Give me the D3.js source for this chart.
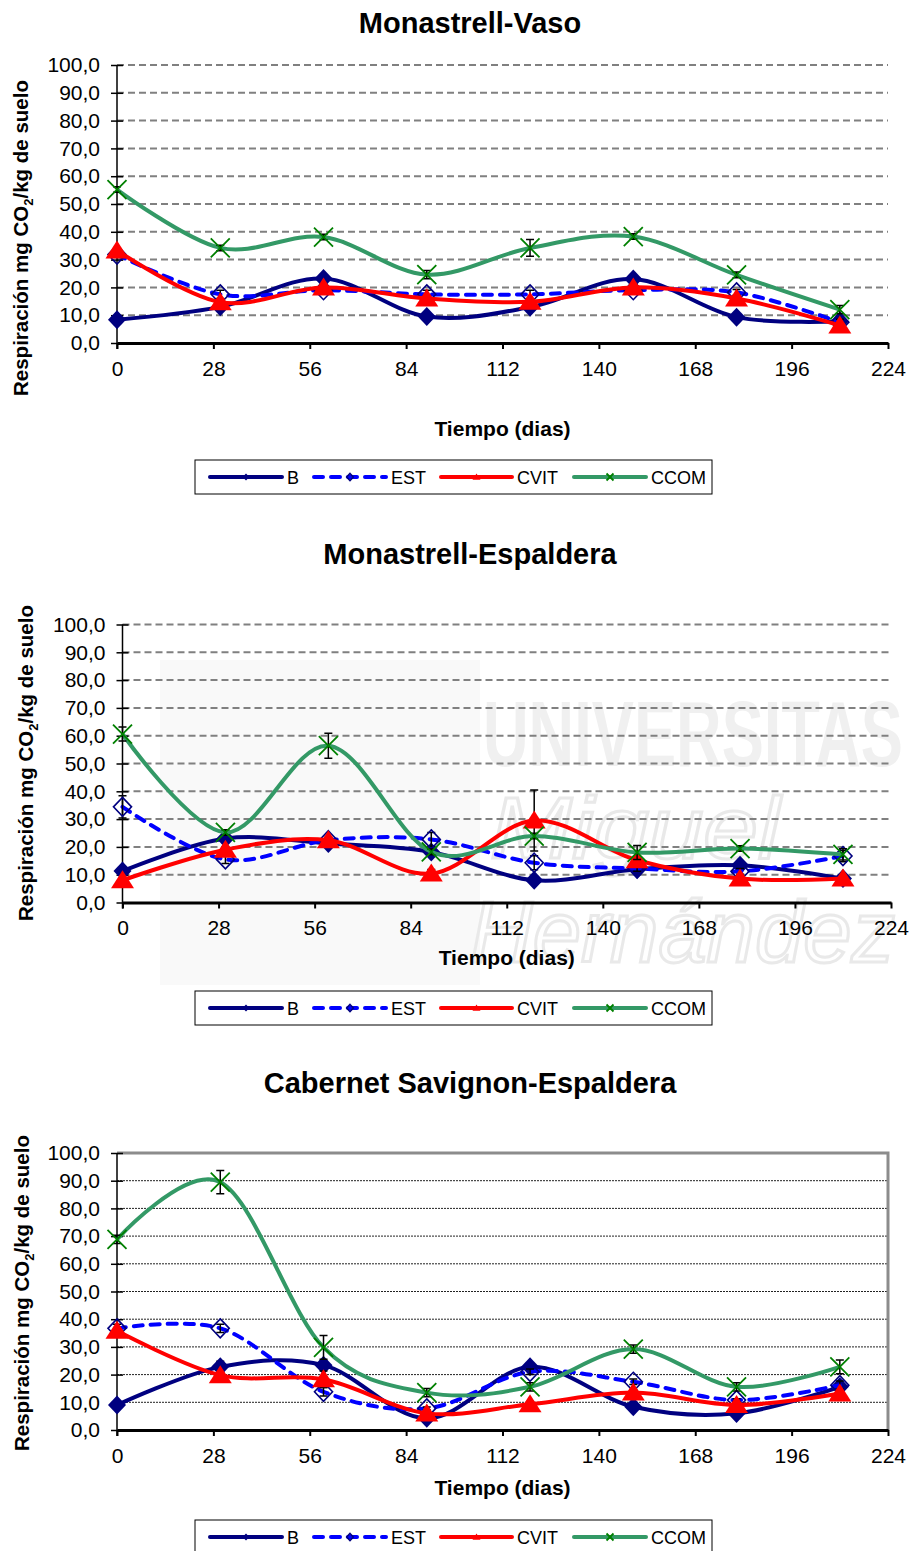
<!DOCTYPE html>
<html>
<head>
<meta charset="utf-8">
<script src="https://cdn.jsdelivr.net/npm/d3@7"></script>
<style>
  html, body { margin: 0; padding: 0; background: #fff; }
  svg { display: block; font-family: "Liberation Sans", Arial, Helvetica, sans-serif; }
</style>
</head>
<body>
<script>
// Sampling days and axis ticks
const days = [0, 30, 60, 90, 120, 150, 180, 210];
const xTicks = [0, 28, 56, 84, 112, 140, 168, 196, 224];
const yTicks = [0, 10, 20, 30, 40, 50, 60, 70, 80, 90, 100];
const seriesNames = ["B", "EST", "CVIT", "CCOM"];

// Monastrell-Vaso
const vasoB    = [8.4, 13.0, 23.2, 9.5, 12.9, 23.0, 9.3, 7.8];
const vasoEST  = [31.8, 17.5, 19.0, 17.5, 17.5, 19.0, 18.2, 7.5];
const vasoCVIT = [33.3, 14.7, 20.0, 16.0, 14.8, 20.0, 16.0, 6.3];
const vasoCCOM = [55.2, 34.2, 38.1, 24.6, 34.2, 38.3, 24.5, 12.0];
const vasoErrB    = [0.5, 1, 1, 0.5, 1, 1, 0.5, 0.5];
const vasoErrEST  = [1, 1.5, 1, 1.5, 1.5, 1, 1, 1];
const vasoErrCVIT = [1, 1, 1, 1, 1, 1, 1, 1];
const vasoErrCCOM = [1, 1, 1, 1.5, 3, 1, 1, 1.5];

// Monastrell-Espaldera
const espB    = [11.3, 23.0, 21.2, 18.2, 8.0, 12.0, 13.4, 8.6];
const espEST  = [34.4, 15.5, 22.4, 22.7, 14.3, 12.2, 11.2, 16.7];
const espCVIT = [8.0, 19.0, 22.4, 10.4, 29.5, 15.2, 8.6, 8.6];
const espCCOM = [60.6, 25.2, 56.4, 18.2, 23.9, 18.0, 19.4, 17.3];
const espErrB    = [1, 1.5, 1, 1, 1, 1, 1, 1];
const espErrEST  = [4, 1.5, 1, 2.5, 2.5, 1, 1, 2];
const espErrCVIT = [0.5, 1, 1, 1.5, 11, 1, 1, 1];
const espErrCCOM = [2.5, 1, 4.5, 1, 1, 2.5, 1, 2];

// Cabernet Savignon-Espaldera
const cabB    = [9.0, 22.8, 23.4, 4.2, 22.8, 8.4, 6.0, 15.6];
const cabEST  = [36.7, 36.7, 13.8, 7.8, 21.0, 17.4, 10.8, 16.2];
const cabCVIT = [35.8, 19.8, 18.3, 6.0, 9.3, 13.5, 9.0, 13.2];
const cabCCOM = [68.8, 89.5, 29.8, 13.5, 15.6, 29.2, 15.6, 22.8];
const cabErrB    = [0.5, 2, 1.5, 0.5, 1, 0.5, 0.5, 1];
const cabErrEST  = [1.5, 1.5, 1.5, 0.5, 1, 1, 0.5, 1.5];
const cabErrCVIT = [1, 1, 3, 0.5, 1, 1, 1, 1];
const cabErrCCOM = [1.5, 4.2, 4.3, 1.5, 1.5, 1.5, 1.5, 2.5];

const chartTitles = ["Monastrell-Vaso", "Monastrell-Espaldera", "Cabernet Savignon-Espaldera"];

// Series styling
const styles = {
  B:    { color: "#000080", dash: null,  marker: "diamondFilled" },
  EST:  { color: "#0000ff", dash: "9,8", marker: "diamondOpen" },
  CVIT: { color: "#ff0000", dash: null,  marker: "triangle" },
  CCOM: { color: "#339966", dash: null,  marker: "cross" }
};

const FONT = '"Liberation Sans", Arial, Helvetica, sans-serif';
const fmt = d => d.toFixed(1).replace(".", ",");

const svg = d3.select("body").append("svg")
  .attr("width", 910).attr("height", 1551);

function markerPath(kind, r) {
  if (kind === "diamondFilled" || kind === "diamondOpen") {
    return `M0,${-r}L${r * 0.95},0L0,${r}L${-r * 0.95},0Z`;
  }
  if (kind === "triangle") {
    const w = r * 1.15;
    return `M0,${-r}L${w},${r * 0.8}L${-w},${r * 0.8}Z`;
  }
  return `M${-r},${-r}L${r},${r}M${-r},${r}L${r},${-r}`;
}

function drawMarker(g, kind, color, cx, cy, r) {
  const p = g.append("path")
    .attr("transform", `translate(${cx},${cy})`)
    .attr("d", markerPath(kind, r));
  if (kind === "diamondFilled") p.attr("fill", "#000080");
  else if (kind === "diamondOpen") p.attr("fill", "none").attr("stroke", "#000080").attr("stroke-width", 1.6);
  else if (kind === "triangle") p.attr("fill", "#ff0000");
  else p.attr("fill", "none").attr("stroke", "#008000").attr("stroke-width", 1.8);
}

function drawChart(cfg, data) {
  const g = svg.append("g");
  const x = d3.scaleLinear().domain([0, 224]).range([cfg.left, cfg.right]);
  const y = d3.scaleLinear().domain([0, 100]).range([cfg.bottom, cfg.top]);

  if (cfg.watermark) cfg.watermark(g);

  // Title
  g.append("text")
    .attr("x", 470).attr("y", cfg.titleY)
    .attr("text-anchor", "middle")
    .attr("font-size", 29).attr("font-weight", "bold")
    .text(cfg.title);

  // Horizontal gridlines
  g.append("g").selectAll("line")
    .data(yTicks.filter(t => t > 0 && !(cfg.framed && t === 100)))
    .join("line")
    .attr("x1", cfg.left).attr("x2", cfg.right)
    .attr("y1", d => y(d)).attr("y2", d => y(d))
    .attr("stroke", cfg.framed ? "#222" : "#808080")
    .attr("stroke-width", cfg.framed ? 1 : 2)
    .attr("stroke-dasharray", cfg.framed ? "2,1" : "7,4");

  if (cfg.framed) {
    g.append("path")
      .attr("d", `M${cfg.left},${y(100)}H${cfg.right}V${cfg.bottom}`)
      .attr("fill", "none").attr("stroke", "#8c8c8c").attr("stroke-width", 3);
  }

  // Y axis
  const yAxis = g.append("g")
    .attr("transform", `translate(${cfg.left},0)`)
    .call(d3.axisLeft(y).tickValues(yTicks).tickFormat(fmt).tickSize(6).tickPadding(11).tickSizeOuter(0));
  yAxis.select(".domain").remove();
  yAxis.selectAll(".tick line").attr("x1", 6).attr("stroke", "#000").attr("stroke-width", 1.5);
  yAxis.selectAll(".tick text").attr("font-size", 21).attr("font-family", FONT).attr("fill", "#000");
  g.append("line")
    .attr("x1", cfg.left).attr("x2", cfg.left)
    .attr("y1", y(100)).attr("y2", cfg.bottom + 6)
    .attr("stroke", "#000").attr("stroke-width", 1.5);

  // X axis
  const xAxis = g.append("g")
    .attr("transform", `translate(0,${cfg.bottom})`)
    .call(d3.axisBottom(x).tickValues(xTicks).tickSize(6).tickPadding(12).tickSizeOuter(0));
  xAxis.select(".domain").attr("stroke", "#000").attr("stroke-width", 3);
  xAxis.selectAll(".tick line").attr("stroke", "#000").attr("stroke-width", 2);
  xAxis.selectAll(".tick text").attr("font-size", 21).attr("font-family", FONT).attr("fill", "#000");

  // Axis titles
  g.append("text")
    .attr("x", (cfg.left + cfg.right) / 2).attr("y", cfg.xTitleY)
    .attr("text-anchor", "middle")
    .attr("font-size", 21).attr("font-weight", "bold")
    .text("Tiempo (dias)");

  const yt = g.append("text")
    .attr("transform", `translate(${cfg.yTitleX},${cfg.yTitleY}) rotate(-90)`)
    .attr("text-anchor", "middle")
    .attr("font-size", 20.5).attr("font-weight", "bold");
  yt.append("tspan").text("Respiración mg CO");
  yt.append("tspan").attr("font-size", 13).attr("dy", 5).text("2");
  yt.append("tspan").attr("dy", -5).text("/kg de suelo");

  // Series: smoothed line, error bars, markers
  const line = d3.line()
    .x(d => x(d.day)).y(d => y(d.v))
    .curve(d3.curveCatmullRom.alpha(0));

  data.forEach(s => {
    const st = styles[s.name];
    const pts = days.map((d, i) => ({ day: d, v: s.values[i], e: s.errors[i] }));
    const sg = g.append("g");
    sg.append("path")
      .datum(pts)
      .attr("d", line)
      .attr("fill", "none")
      .attr("stroke", st.color)
      .attr("stroke-width", 4)
      .attr("stroke-linecap", st.dash ? "round" : "butt")
      .attr("stroke-linejoin", "round")
      .attr("stroke-dasharray", st.dash);

    const eb = sg.append("g").attr("stroke", "#000").attr("stroke-width", 1.5).attr("fill", "none");
    pts.forEach(p => {
      const cx = x(p.day), y1 = y(p.v + p.e), y2 = y(p.v - p.e);
      eb.append("path").attr("d", `M${cx},${y1}V${y2}M${cx - 4},${y1}H${cx + 4}M${cx - 4},${y2}H${cx + 4}`);
    });

    pts.forEach(p => drawMarker(sg, st.marker, st.color, x(p.day), y(p.v), st.marker === "triangle" ? 10 : 9.5));
  });

  // Legend
  const lg = g.append("g").attr("transform", `translate(195,${cfg.legendY})`);
  lg.append("rect").attr("width", 517).attr("height", 34)
    .attr("fill", "#fff").attr("stroke", "#000").attr("stroke-width", 1);
  const items = [
    { name: "B", x0: 15, x1: 87, tx: 92 },
    { name: "EST", x0: 119, x1: 191, tx: 196 },
    { name: "CVIT", x0: 246, x1: 317, tx: 322 },
    { name: "CCOM", x0: 379, x1: 451, tx: 456 }
  ];
  items.forEach(it => {
    const st = styles[it.name];
    lg.append("line")
      .attr("x1", it.x0).attr("x2", it.x1).attr("y1", 17).attr("y2", 17)
      .attr("stroke", st.color).attr("stroke-width", 4)
      .attr("stroke-linecap", "round")
      .attr("stroke-dasharray", st.dash);
    drawMarker(lg, st.marker, st.color, (it.x0 + it.x1) / 2, 17, 3.5);
    lg.append("text")
      .attr("x", it.tx).attr("y", 23.5)
      .attr("font-size", 18)
      .text(it.name);
  });
}

// Faint university watermark behind the second chart
function espWatermark(g) {
  const w = g.append("g").attr("fill", "#f0f0f0");
  w.append("rect").attr("x", 160).attr("y", 660).attr("width", 320).attr("height", 325).attr("fill", "#f9f9f9");
  w.append("text").attr("x", 483).attr("y", 766)
    .attr("font-size", 92).attr("font-weight", "bold")
    .attr("font-family", '"Liberation Sans Narrow", "Liberation Sans", Arial, sans-serif')
    .attr("textLength", 420).attr("lengthAdjust", "spacingAndGlyphs")
    .text("UNIVERSITAS");
  w.append("text").attr("x", 490).attr("y", 858)
    .attr("font-size", 88).attr("font-style", "italic")
    .attr("fill", "none").attr("stroke", "#e9e9e9").attr("stroke-width", 3)
    .attr("textLength", 290).attr("lengthAdjust", "spacingAndGlyphs")
    .text("Miguel");
  w.append("text").attr("x", 470).attr("y", 962)
    .attr("font-size", 88).attr("font-style", "italic")
    .attr("fill", "none").attr("stroke", "#e9e9e9").attr("stroke-width", 3)
    .attr("textLength", 425).attr("lengthAdjust", "spacingAndGlyphs")
    .text("Hernández");
}

drawChart({
  title: chartTitles[0], titleY: 33,
  left: 117, right: 888, top: 65, bottom: 343,
  xTitleY: 436, yTitleX: 28, yTitleY: 238, legendY: 460, framed: false
}, [
  { name: seriesNames[0], values: vasoB, errors: vasoErrB },
  { name: seriesNames[1], values: vasoEST, errors: vasoErrEST },
  { name: seriesNames[2], values: vasoCVIT, errors: vasoErrCVIT },
  { name: seriesNames[3], values: vasoCCOM, errors: vasoErrCCOM }
]);

drawChart({
  title: chartTitles[1], titleY: 564,
  left: 122.5, right: 891, top: 624.5, bottom: 902.5,
  xTitleY: 965, yTitleX: 33, yTitleY: 763, legendY: 991, framed: false,
  watermark: espWatermark
}, [
  { name: seriesNames[0], values: espB, errors: espErrB },
  { name: seriesNames[1], values: espEST, errors: espErrEST },
  { name: seriesNames[2], values: espCVIT, errors: espErrCVIT },
  { name: seriesNames[3], values: espCCOM, errors: espErrCCOM }
]);

drawChart({
  title: chartTitles[2], titleY: 1093,
  left: 117, right: 888, top: 1153, bottom: 1430,
  xTitleY: 1495, yTitleX: 29, yTitleY: 1293, legendY: 1520, framed: true
}, [
  { name: seriesNames[0], values: cabB, errors: cabErrB },
  { name: seriesNames[1], values: cabEST, errors: cabErrEST },
  { name: seriesNames[2], values: cabCVIT, errors: cabErrCVIT },
  { name: seriesNames[3], values: cabCCOM, errors: cabErrCCOM }
]);
</script>
</body>
</html>
